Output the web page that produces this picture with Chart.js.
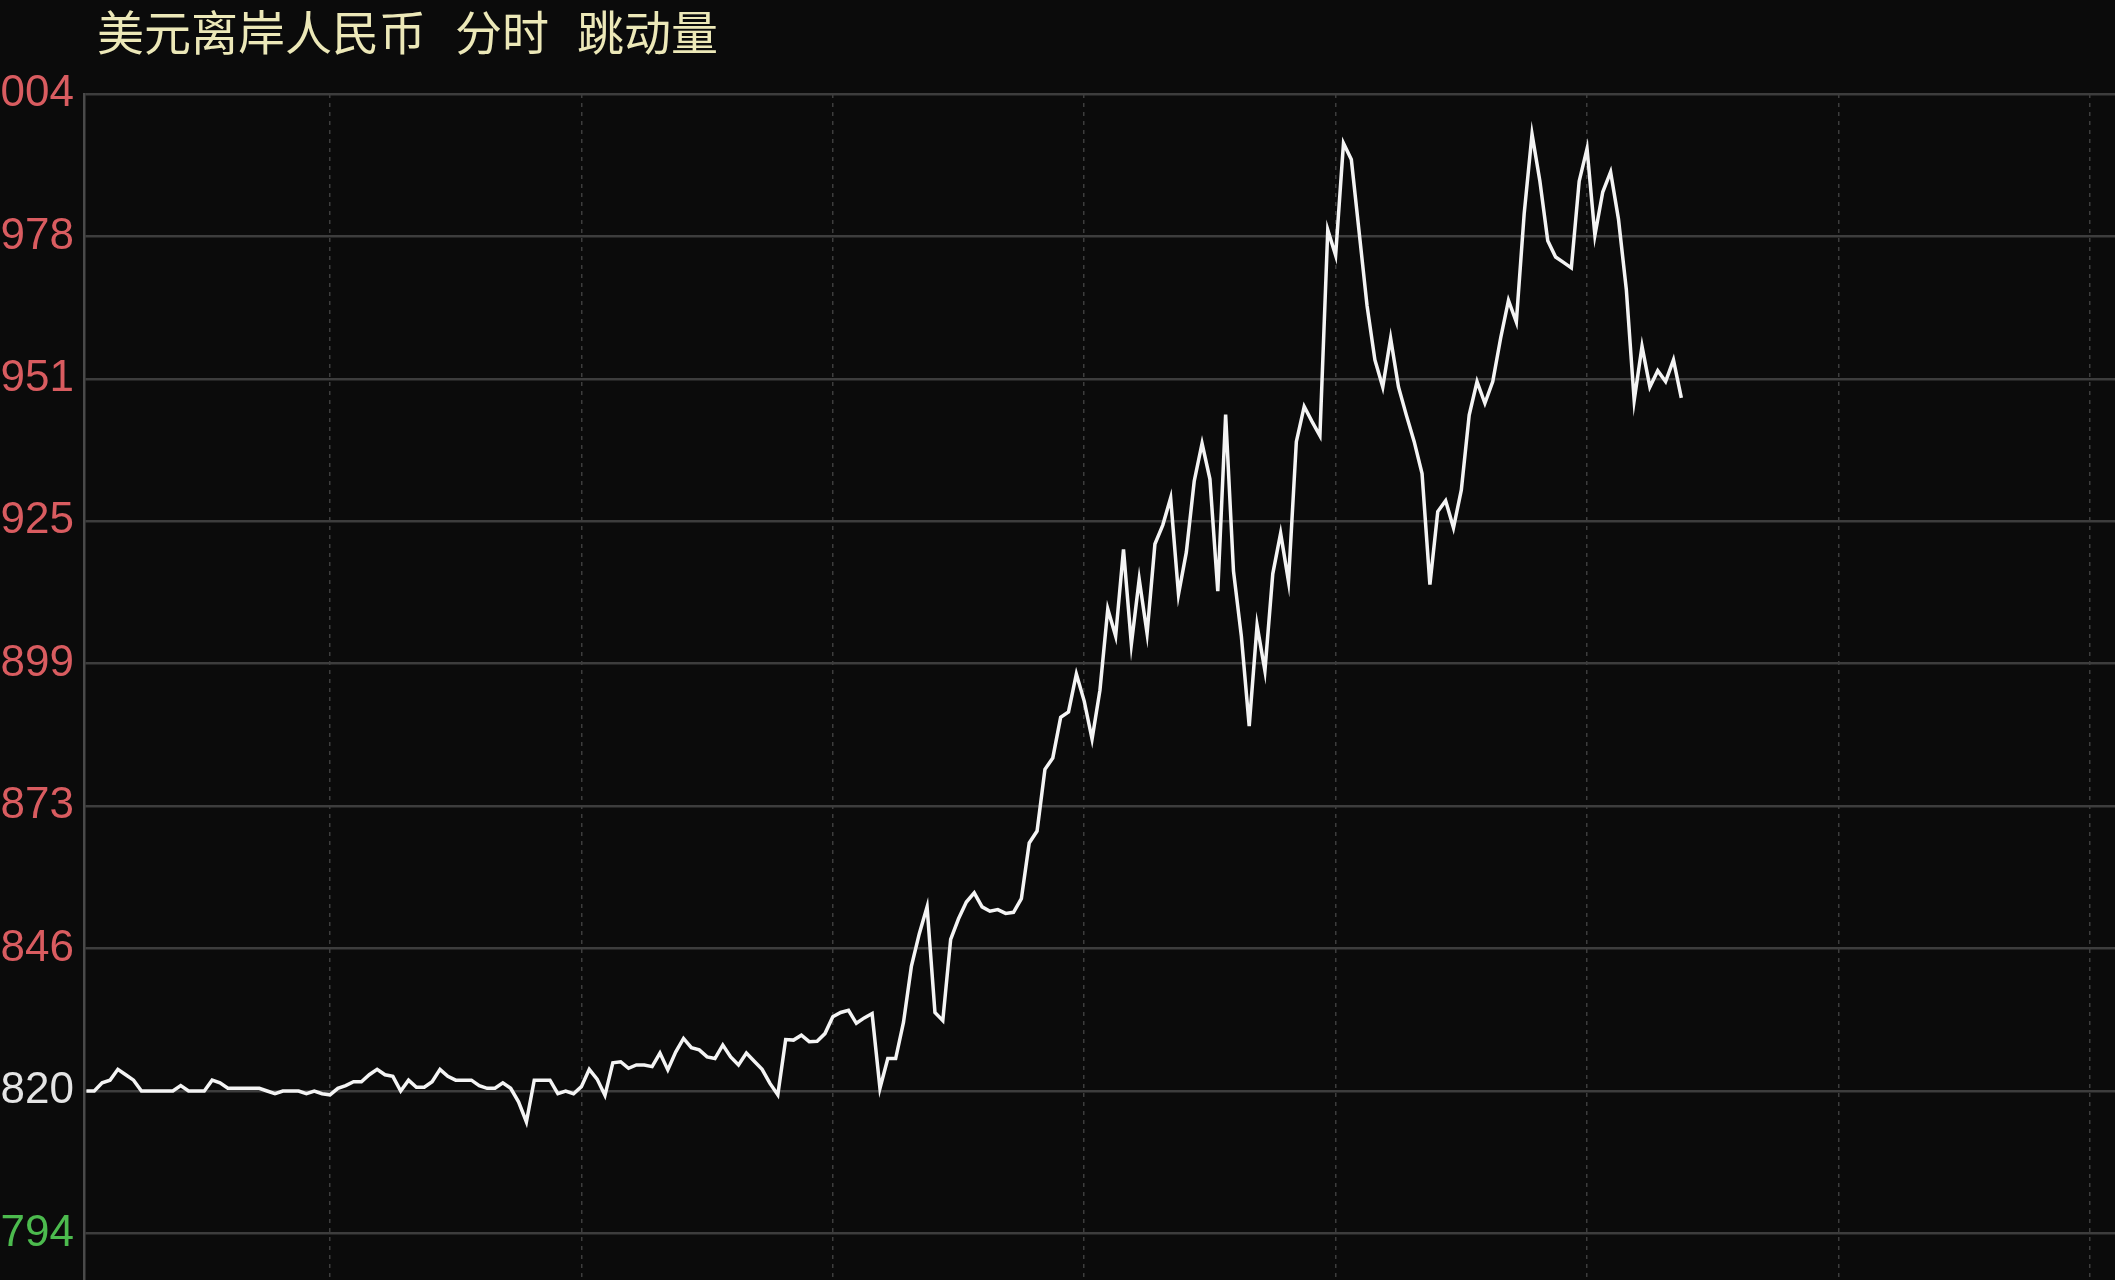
<!DOCTYPE html>
<html>
<head>
<meta charset="utf-8">
<title>美元离岸人民币 分时 跳动量</title>
<script src="https://cdn.jsdelivr.net/npm/chart.js@4.4.1/dist/chart.umd.min.js"></script>
<style>
  html, body { margin: 0; padding: 0; background: #0b0b0b; }
  #wrap { position: relative; width: 2115px; height: 1280px; overflow: hidden; }
  #tickChart { position: absolute; left: 0; top: 0; }
  #title span {
    position: absolute;
    top: 6px;
    white-space: nowrap;
    font-family: "Noto Sans CJK SC", sans-serif;
    font-size: 47px;
    line-height: 47px;
    color: #ece8b8;
  }
</style>
</head>
<body>
<div id="wrap">
  <canvas id="tickChart" width="2115" height="1280"></canvas>
  <div id="title"></div>
</div>
<script>
// title pieces
const titleParts = ['美元离岸人民币', '分时', '跳动量'];

// y axis: price in pips, previous close is the white line
const prevClose = 820;
const yTickValues = [793.7, 820, 846.3, 872.6, 898.9, 925.2, 951.5, 977.8, 1004.1];
const yTickLabels = ['794', '820', '846', '873', '899', '925', '951', '978', '004'];

// x axis: tick index, dashed guide every 32 ticks
const timeGrid = [32, 64, 96, 128, 160, 192, 224, 256];

// one price per tick
const prices = [
  820, 820, 821.5, 822, 824, 823, 822, 820, 820, 820,
  820, 820, 821, 820, 820, 820, 822, 821.5, 820.5, 820.5,
  820.5, 820.5, 820.5, 820, 819.5, 820, 820, 820, 819.5, 820,
  819.5, 819.3, 820.5, 821, 821.7, 821.7, 823, 824, 823, 822.7,
  820, 822, 820.7, 820.7, 821.7, 824, 822.7, 822, 822, 822,
  821, 820.5, 820.5, 821.5, 820.5, 818, 814.3, 822, 822, 822,
  819.5, 820, 819.5, 820.8, 824, 822.2, 819.2, 825.2, 825.4, 824.2,
  824.8, 824.8, 824.5, 827, 823.9, 827.2, 829.7, 828, 827.6, 826.3,
  826, 828.5, 826.3, 824.8, 827, 825.5, 824, 821.4, 819.3, 829.5,
  829.4, 830.3, 829.1, 829.2, 830.6, 833.7, 834.5, 834.9, 832.5, 833.5,
  834.3, 820.5, 826, 826, 832.7, 843, 849, 854, 834.5, 833,
  848, 851.8, 854.9, 856.6, 854, 853.2, 853.5, 852.8, 853, 855.5,
  865.8, 868, 879.4, 881.5, 889, 890, 897, 892, 885, 894,
  909, 904, 920, 902.5, 914.5, 904.5, 921, 924.5, 929.5, 911.7,
  919.5, 932.6, 939.6, 933, 912.3, 944.9, 916, 904, 887.4, 906,
  897.6, 915.5, 923, 914.1, 939.9, 946.4, 943.6, 941, 979, 974.3,
  995, 992, 978.5, 965, 955, 950, 959, 950, 944.8, 939.9,
  934, 913.5, 927, 929, 924, 931, 944.8, 951, 947, 951,
  959, 966, 962, 982, 996.7, 988, 977, 974, 973, 972,
  988, 994, 978, 986, 989.7, 981, 968, 947.5, 957.5, 950,
  953, 951, 955, 948
];

// title layout
const titleLeft = [97, 455, 577];
const titleBox = document.getElementById('title');
titleParts.forEach((t, i) => {
  const s = document.createElement('span');
  s.textContent = t;
  s.style.left = titleLeft[i] + 'px';
  titleBox.appendChild(s);
});

const gridColor = '#3d3d3d';

new Chart(document.getElementById('tickChart'), {
  type: 'line',
  data: {
    datasets: [{
      label: '跳动量',
      data: prices.map((v, i) => ({ x: i + 1, y: v })),
      borderColor: '#f4f4f4',
      borderWidth: 3.5,
      pointRadius: 0,
      tension: 0,
      fill: false
    }]
  },
  options: {
    responsive: false,
    animation: false,
    layout: { padding: { top: 94, left: 0, right: 0, bottom: 0 } },
    plugins: {
      legend: { display: false },
      title: { display: false },
      tooltip: { enabled: false }
    },
    scales: {
      x: {
        type: 'linear',
        min: 0.69,
        max: 259.2,
        afterBuildTicks: (scale) => { scale.ticks = timeGrid.map(v => ({ value: v })) },
        afterFit: (scale) => { scale.height = 0; scale.paddingLeft = 0; scale.paddingRight = 0 },
        ticks: { display: false },
        grid: { color: gridColor, lineWidth: 1.5, drawTicks: false },
        border: { display: false, dash: [4, 5] }
      },
      y: {
        type: 'linear',
        min: 785.1,
        max: 1004.1,
        afterBuildTicks: (scale) => { scale.ticks = yTickValues.map(v => ({ value: v })) },
        // the bottom tick is not on the edge, so no room is needed below it
        afterFit: (scale) => { scale.width = 84; scale.paddingBottom = 0 },
        ticks: {
          autoSkip: false,
          padding: 10,
          font: { family: '"Liberation Sans", Arial, sans-serif', size: 44 },
          color: (ctx) => {
            const v = ctx.tick.value;
            if (Math.abs(v - prevClose) < 0.01) return '#e4e4e4';
            return v > prevClose ? '#d95c60' : '#4cbb4e';
          },
          callback: (value, index) => yTickLabels[index]
        },
        grid: { color: gridColor, lineWidth: 2.5, drawTicks: false },
        border: { display: true, color: '#4a4a4a', width: 2.5 }
      }
    }
  }
});
</script>
</body>
</html>
